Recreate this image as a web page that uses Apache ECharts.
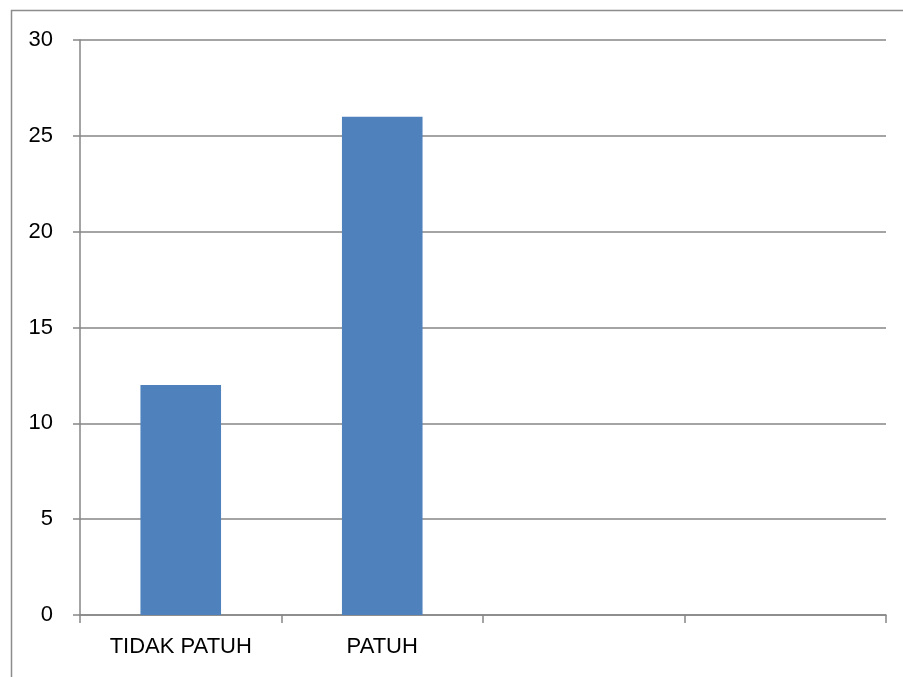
<!DOCTYPE html>
<html>
<head>
<meta charset="utf-8">
<script src="https://cdn.jsdelivr.net/npm/echarts@6/dist/echarts.min.js"></script>
<style>
  html, body { margin: 0; padding: 0; background: #fff; }
  #chart { width: 903px; height: 677px; }
</style>
</head>
<body>
<div id="chart"></div>
<script>
  // data
  var categories = ["TIDAK PATUH", "PATUH", "", ""];
  var values = [12, 26, null, null];
  var yTicks = { min: 0, max: 30, step: 5 };

  var chart = echarts.init(document.getElementById("chart"));
  var axisGrey = "#868686";
  var labelFont = { color: "#000", fontSize: 22, fontFamily: "Liberation Sans" };

  var option = {
    backgroundColor: "#fff",
    animation: false,
    grid: { left: 80, right: 17, top: 40, bottom: 62 },
    // outer chart-area border, clipped on right and bottom in the reference
    graphic: [{
      type: "rect",
      shape: { x: 11.5, y: 10.5, width: 1000, height: 1000 },
      style: { fill: "none", stroke: "#8c8c8c", lineWidth: 1.5 },
      silent: true
    }],
    xAxis: {
      type: "category",
      data: categories,
      axisLine: { show: true, lineStyle: { color: axisGrey, width: 1.5 } },
      axisTick: { show: true, alignWithLabel: false, length: 8, lineStyle: { color: axisGrey, width: 1.5 } },
      axisLabel: Object.assign({ margin: 21, interval: 0 }, labelFont),
      splitLine: { show: false }
    },
    yAxis: {
      type: "value",
      min: yTicks.min,
      max: yTicks.max,
      interval: yTicks.step,
      axisLine: { show: true, lineStyle: { color: axisGrey, width: 1.5 } },
      axisTick: { show: true, length: 7, lineStyle: { color: axisGrey, width: 1.5 } },
      axisLabel: Object.assign({ margin: 27 }, labelFont),
      splitLine: { show: true, lineStyle: { color: axisGrey, width: 1.5 } }
    },
    series: [{
      type: "bar",
      data: values,
      barWidth: "40%",
      itemStyle: { color: "#4f81bd" }
    }]
  };

  chart.setOption(option);
</script>
</body>
</html>
